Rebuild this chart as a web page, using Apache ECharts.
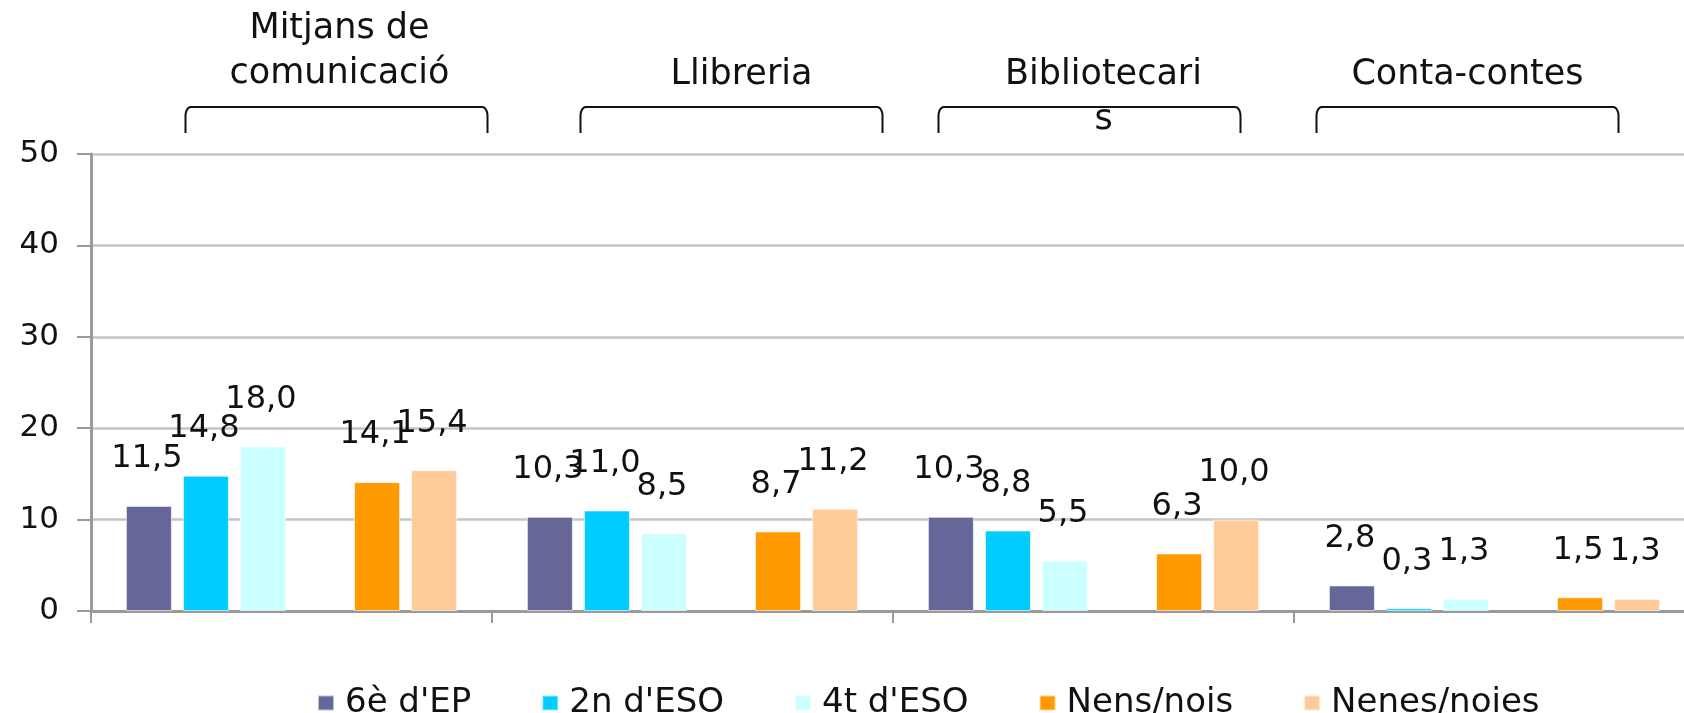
<!DOCTYPE html>
<html>
<head>
<meta charset="utf-8">
<script src="https://cdn.jsdelivr.net/npm/echarts@6/dist/echarts.min.js"></script>
<style>
  html, body { margin: 0; padding: 0; background: #fff; }
  #chart { width: 1684px; height: 713px; }
</style>
</head>
<body>
<div id="chart"></div>
<script>
// categories and the text shown above each group
var categories = ['Mitjans de comunicació', 'Llibreria', 'Bibliotecaris', 'Conta-contes']
var topTitles = ['Mitjans de\ncomunicació', 'Llibreria', 'Bibliotecari\ns', 'Conta-contes']

// values (%)
var ep6 = [11.5, 10.3, 10.3, 2.8]
var eso2 = [14.8, 11.0, 8.8, 0.3]
var eso4 = [18.0, 8.5, 5.5, 1.3]
var nens = [14.1, 8.7, 6.3, 1.5]
var nenes = [15.4, 11.2, 10.0, 1.3]

var yTicks = [0, 10, 20, 30, 40, 50]

var FONT = "'DejaVu Sans', sans-serif"
var WEIGHT = 'normal'

// shifts of the brace / title relative to the category centre (px)
var braceShift = [45, 39, -4, -27]
var titleShift = [48, 49, 10, -27]

var chart = echarts.init(document.getElementById('chart'))

function bar(name, data, color) {
  return {
    name: name,
    type: 'bar',
    data: data,
    barWidth: 46,
    barGap: '24%',
    itemStyle: { color: color, borderColor: 'rgba(255,255,255,0.6)', borderWidth: 1 },
    label: {
      show: data.length > 0,
      position: 'top',
      distance: 31,
      offset: [-2, 0],
      color: '#111',
      fontFamily: FONT,
      fontWeight: WEIGHT,
      fontSize: 32,
      formatter: function (p) { return p.value.toFixed(1).replace('.', ',') }
    }
  }
}

chart.setOption({
  animation: false,
  grid: { left: 91, top: 154, bottom: 102, right: -11, outerBoundsMode: 'none' },
  legend: {
    data: ["6è d'EP", "2n d'ESO", "4t d'ESO", 'Nens/nois', 'Nenes/noies'],
    left: 312,
    top: 681,
    icon: 'rect',
    itemWidth: 16,
    itemHeight: 15,
    itemGap: 70,
    textStyle: { fontFamily: FONT, fontWeight: WEIGHT, fontSize: 34, color: '#111', padding: [0, 0, 0, 6] }
  },
  xAxis: {
    type: 'category',
    data: categories,
    axisLabel: { show: false },
    axisLine: { show: true, lineStyle: { color: '#9a9a9a', width: 3 } },
    axisTick: { show: true, length: 12, lineStyle: { color: '#9a9a9a', width: 2 } }
  },
  yAxis: {
    type: 'value',
    min: yTicks[0],
    max: yTicks[yTicks.length - 1],
    interval: 10,
    axisLine: { show: true, lineStyle: { color: '#9a9a9a', width: 3 } },
    axisTick: { show: true, length: 14, lineStyle: { color: '#9a9a9a', width: 2 } },
    axisLabel: { fontFamily: FONT, fontWeight: WEIGHT, fontSize: 31, color: '#111', margin: 32 },
    splitLine: { lineStyle: { color: '#c4c4c4', width: 2.5 } }
  },
  series: [
    bar("6è d'EP", ep6, '#666699'),
    bar("2n d'ESO", eso2, '#00ccff'),
    bar("4t d'ESO", eso4, '#ccffff'),
    bar('', [], 'transparent'),
    bar('Nens/nois', nens, '#ff9900'),
    bar('Nenes/noies', nenes, '#ffcc99')
  ]
})

// braces and titles above each category group
function drawTop() {
  var graphics = []
  var top = 107, bottom = 133, r = 9, halfW = 151
  categories.forEach(function (c, i) {
    var cx = chart.convertToPixel({ xAxisIndex: 0 }, c)
    var x1 = cx + braceShift[i] - halfW
    var x2 = cx + braceShift[i] + halfW
    var pts = [[x1, bottom], [x1, top + r]]
    var k, a
    for (k = 1; k <= 8; k++) {
      a = Math.PI / 2 * k / 8
      pts.push([x1 + r * 0.6 - r * 0.6 * Math.cos(a), top + r - r * Math.sin(a)])
    }
    for (k = 8; k >= 1; k--) {
      a = Math.PI / 2 * k / 8
      pts.push([x2 - r * 0.6 + r * 0.6 * Math.cos(a), top + r - r * Math.sin(a)])
    }
    pts.push([x2, top + r], [x2, bottom])
    graphics.push({
      type: 'polyline',
      shape: { points: pts },
      style: { stroke: '#111', lineWidth: 2, fill: null }
    })
    graphics.push({
      type: 'text',
      x: cx + titleShift[i],
      y: i === 0 ? 6 : 52,
      style: {
        text: topTitles[i],
        align: 'center',
        verticalAlign: 'top',
        fontFamily: FONT,
        fontWeight: WEIGHT,
        fontSize: 35,
        lineHeight: 45,
        fill: '#111'
      }
    })
  })
  chart.setOption({ graphic: graphics })
}
drawTop()
</script>
</body>
</html>
